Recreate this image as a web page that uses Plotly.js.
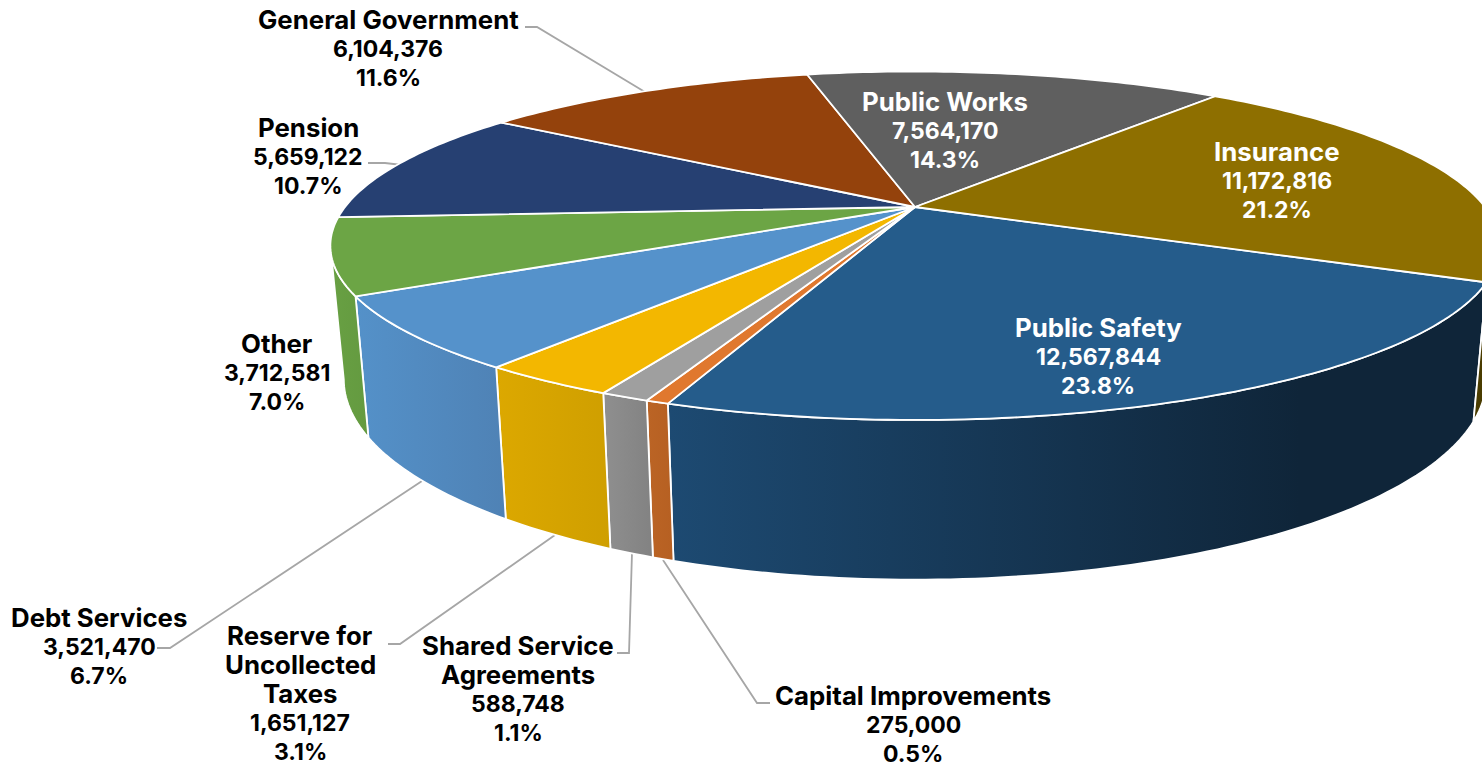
<!DOCTYPE html>
<html><head><meta charset="utf-8">
<script src="https://cdn.plot.ly/plotly-3.0.1.min.js"></script>
<style>html,body{margin:0;padding:0;background:#fff}#chart{width:1482px;height:763px}</style>
</head><body><div id="chart"></div>
<script>
// ---- data ----
const categories = ["Public Safety","Capital Improvements","Shared Service Agreements","Reserve for Uncollected Taxes","Debt Services","Other","Pension","General Government","Public Works","Insurance"];
const values = [12567844,275000,588748,1651127,3521470,3712581,5659122,6104376,7564170,11172816];
const topColors = ["#255c8b","#e0782e","#9f9f9f","#f3b700","#5592cb","#6ca545","#264072","#94420c","#5f5f5f","#8e6f00"];
const wallStart = ["#1d4a72","#bb6425","#8f8f8f","#dca800","#5491c9","#68a043","#264072","#94420c","#5f5f5f","#4a3c00"];
const wallEnd   = ["#0f2539","#b66022","#828282","#cf9f00","#4f82b5","#649a40","#264072","#94420c","#5f5f5f","#4a3c00"];
// text rows: label lines, centre x, first-line y, colour
const labelLines = [
  [["Public Safety"],1098,327,"#fff"],
  [["Capital Improvements"],913,695,"#000"],
  [["Shared Service","Agreements"],518,645,"#000"],
  [["Reserve for","Uncollected","Taxes"],300,635,"#000"],
  [["Debt Services"],99,617,"#000"],
  [["Other"],277,343,"#000"],
  [["Pension"],308,127,"#000"],
  [["General Government"],388,19,"#000"],
  [["Public Works"],945,101,"#fff"],
  [["Insurance"],1277,151,"#fff"]
];
const leaderLines = [
  [[525,537,645],[27,27,92]],
  [[368,385,402],[163,163,165]],
  [[157,170,422],[648,648,481]],
  [[388,400,555],[644,644,535]],
  [[617,629,632],[653,653,553]],
  [[770,757,663],[703,703,560]]
];

// ---- perspective disc model ----
const cx=915, cy=207, f=570, g=165.6, k=0.2224, startDeg=24.4, baseScale=0.977, depth=128;
const rad=d=>d*Math.PI/180;
function topPt(t){const s=Math.sin(rad(t)),c=Math.cos(rad(t)),w=1/(1-k*s);return [cx+f*c*w, cy+g*s*w];}
function basePt(t){const s=Math.sin(rad(t)),c=Math.cos(rad(t)),w=1/(1-k*s);
  return [cx+baseScale*f*c*w, cy+baseScale*g*s*w+depth*w];}
function arc(fn,a,b){const n=Math.max(2,Math.ceil(Math.abs(b-a)));const o=[];for(let i=0;i<=n;i++)o.push(fn(a+(b-a)*i/n));return o;}

const total=values.reduce((a,b)=>a+b,0);
const silhR=Math.asin(k)*180/Math.PI, silhL=180-silhR;
let ang=startDeg; const spans=values.map(v=>{const a=ang;ang+=v/total*360;return [a,ang];});

const traces=[];
leaderLines.forEach(l=>traces.push({type:"scatter",mode:"lines",x:l[0],y:l[1],hoverinfo:"skip",showlegend:false,
  line:{color:"#a6a6a6",width:1.8}}));

// side walls (front half only); the last slice wraps past 360 degrees back to the right-hand silhouette
spans.forEach((sp,i)=>{
  const wraps=sp[1]>360;
  const a=wraps?silhR:Math.max(sp[0],silhR), b=wraps?sp[1]-360:Math.min(sp[1],silhL);
  if(b<=a) return;
  const pts=arc(topPt,a,b).concat(arc(basePt,b,a));
  pts.push(pts[0]);
  const xs=pts.map(p=>p[0]), ys=pts.map(p=>p[1]);
  const isSafety=i===0;
  traces.push({type:"scatter",mode:"lines",x:xs,y:ys,fill:"toself",hoverinfo:"skip",showlegend:false,
    line:{color:"#fff",width:1.8,simplify:false},
    fillgradient:{type:"horizontal",
      start:Math.min(...xs), stop:isSafety?1300:Math.max(...xs),
      colorscale:[[0,wallStart[i]],[1,wallEnd[i]]]}});
});
// top faces
spans.forEach((sp,i)=>{
  const pts=[[cx,cy]].concat(arc(topPt,sp[0],sp[1]));
  pts.push([cx,cy]);
  traces.push({type:"scatter",mode:"lines",x:pts.map(p=>p[0]),y:pts.map(p=>p[1]),fill:"toself",fillcolor:topColors[i],
    name:categories[i],hoverinfo:"name",showlegend:false,line:{color:"#fff",width:1.8,simplify:false}});
});

// labels: names are set larger than the figures, to match the reference's widths
const annotations=[];
const labelFont=(c,size)=>({family:"Inter, 'Noto Sans', sans-serif",size:size,color:c,weight:700});
const lineGap=29, nameSize=25.8, figureSize=23;
categories.forEach((cat,i)=>{
  const [lines,x,y0,color]=labelLines[i];
  const n=lines.length;
  const rows=lines.map(t=>[t,nameSize]).concat([[values[i].toLocaleString("en-US"),figureSize],[(values[i]/total*100).toFixed(1)+"%",figureSize]]);
  rows.forEach((r,j)=>annotations.push({xref:"x",yref:"y",x:x,y:y0+j*lineGap+(j>=n?1:0),text:r[0],showarrow:false,
    xanchor:"center",yanchor:"middle",font:labelFont(color,r[1])}));
});

Plotly.newPlot("chart",traces,{
  width:1482,height:763,margin:{l:0,r:0,t:0,b:0},paper_bgcolor:"#fff",plot_bgcolor:"#fff",showlegend:false,
  xaxis:{range:[0,1482],visible:false,fixedrange:true},
  yaxis:{range:[763,0],visible:false,fixedrange:true},
  annotations:annotations
},{displayModeBar:false,staticPlot:true});
</script></body></html>
